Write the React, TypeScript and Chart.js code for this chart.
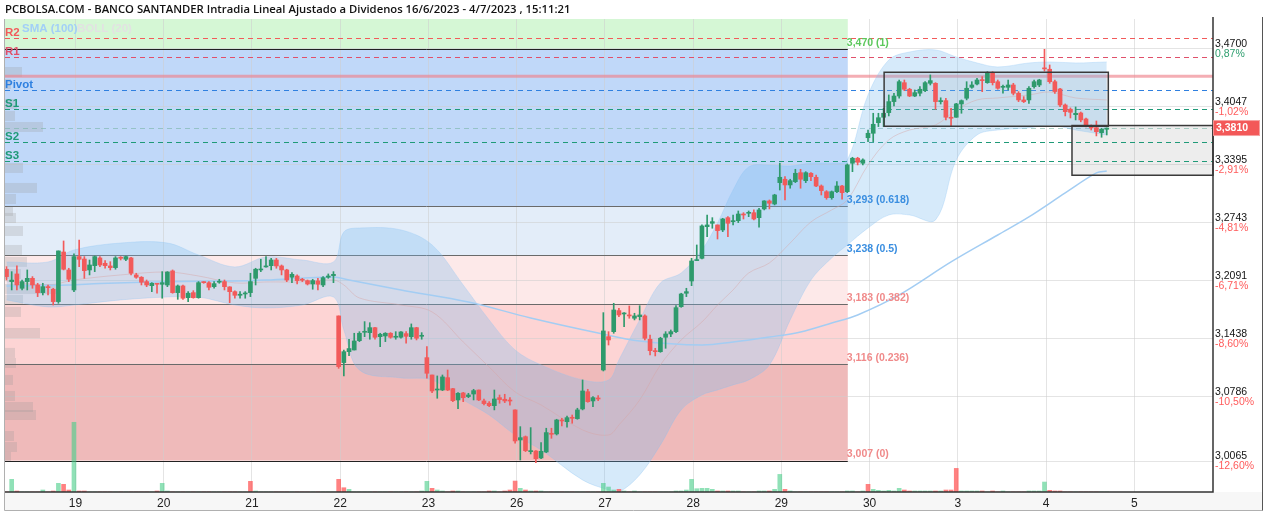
import React, { useEffect, useRef } from 'react';
import { Chart, registerables } from 'chart.js';

Chart.register(...registerables);

const TITLE = 'PCBOLSA.COM - BANCO SANTANDER Intradia Lineal Ajustado a Dividenos 16/6/2023 - 4/7/2023 , 15:11:21';

// Day labels on the x axis and the candle index where each day starts (30-minute candles)
const dayLabels = ['19', '20', '21', '22', '23', '26', '27', '28', '29', '30', '3', '4', '5'];
const dayStartIdx = [13, 30, 47, 64, 81, 98, 115, 132, 149, 166, 183, 200, 217];

// OHLC (one entry per 30-minute candle: 16/6 partial ... 4/7 15:11)
const opens = [
  3.2222, 3.2083, 3.2169, 3.2008, 3.2083, 3.2120, 3.2045, 3.1959, 3.2026, 3.1997, 3.1858, 3.2416, 3.2214,
  3.1989, 3.2364, 3.2337, 3.2214, 3.2262, 3.2349, 3.2289, 3.2259, 3.2240, 3.2357, 3.2334, 3.2349, 3.2158, 3.2132, 3.2083, 3.2037, 3.2056,
  3.2053, 3.2045, 3.2203, 3.1959, 3.2034, 3.1902, 3.1959, 3.1902, 3.2079, 3.2071, 3.2026, 3.2076, 3.2083, 3.2023, 3.1970, 3.1929, 3.1944,
  3.1959, 3.2120, 3.2214, 3.2248, 3.2262, 3.2326, 3.2259, 3.2214, 3.2132, 3.2146, 3.2101, 3.2094, 3.2056, 3.2090, 3.2045, 3.2132, 3.2150,
  3.1697, 3.1172, 3.1295, 3.1314, 3.1419, 3.1513, 3.1509, 3.1565, 3.1464, 3.1472, 3.1502, 3.1457, 3.1457, 3.1498, 3.1464, 3.1565, 3.1468,
  3.1228, 3.1033, 3.0864, 3.0864, 3.1003, 3.0879, 3.0752, 3.0831, 3.0790, 3.0819, 3.0864, 3.0741, 3.0715, 3.0688, 3.0778, 3.0760, 3.0744,
  3.0640, 3.0302, 3.0339, 3.0171, 3.0178, 3.0100, 3.0167, 3.0370, 3.0370, 3.0519, 3.0508, 3.0553, 3.0542, 3.0651, 3.0845, 3.0741, 3.0771,
  3.1089, 3.1464, 3.1520, 3.1757, 3.1719, 3.1708, 3.1671, 3.1689, 3.1697, 3.1435, 3.1306, 3.1295, 3.1457, 3.1494, 3.1520, 3.1801, 3.1952,
  3.2090, 3.2319, 3.2345, 3.2701, 3.2739, 3.2720, 3.2664, 3.2802, 3.2757, 3.2768, 3.2843, 3.2851, 3.2858, 3.2802, 3.2900, 3.2990, 3.2956,
  3.3196, 3.3234, 3.3170, 3.3207, 3.3308, 3.3218, 3.3301, 3.3256, 3.3158, 3.3094, 3.3027, 3.3094, 3.3158, 3.3094, 3.3414, 3.3470, 3.3414,
  3.3701, 3.3751, 3.3870, 3.3931, 3.3983, 3.4107, 3.4170, 3.4320, 3.4246, 3.4170, 3.4201, 3.4230, 3.4313, 3.4313, 3.4107, 3.4118, 3.3931,
  3.3931, 3.4081, 3.4145, 3.4268, 3.4305, 3.4350, 3.4320, 3.4433, 3.4331, 3.4268, 3.4268, 3.4294, 3.4201, 3.4126, 3.4126, 3.4275, 3.4294,
  3.4482, 3.4471, 3.4331, 3.4249, 3.4069, 3.4021, 3.3960, 3.3979, 3.3912, 3.3833, 3.3814, 3.3758, 3.3796,
];
const highs = [
  3.2251, 3.2195, 3.2259, 3.2101, 3.2214, 3.2139, 3.2064, 3.2064, 3.2045, 3.2008, 3.2428, 3.2540, 3.2233,
  3.2394, 3.2551, 3.2364, 3.2326, 3.2371, 3.2364, 3.2319, 3.2307, 3.2364, 3.2364, 3.2371, 3.2357, 3.2177, 3.2139, 3.2101, 3.2071, 3.2064,
  3.2195, 3.2195, 3.2214, 3.2045, 3.2045, 3.1970, 3.1981, 3.2083, 3.2083, 3.2083, 3.2083, 3.2109, 3.2101, 3.2026, 3.1978, 3.1970, 3.1970,
  3.2177, 3.2233, 3.2334, 3.2364, 3.2345, 3.2345, 3.2270, 3.2222, 3.2184, 3.2158, 3.2120, 3.2101, 3.2109, 3.2120, 3.2139, 3.2169, 3.2195,
  3.1697, 3.1314, 3.1435, 3.1502, 3.1520, 3.1633, 3.1621, 3.1569, 3.1502, 3.1509, 3.1509, 3.1520, 3.1520, 3.1520, 3.1607, 3.1569, 3.1509,
  3.1351, 3.1033, 3.1022, 3.1033, 3.1089, 3.0883, 3.0834, 3.0838, 3.0827, 3.0872, 3.0864, 3.0763, 3.0733, 3.0864, 3.0808, 3.0816, 3.0778,
  3.0640, 3.0452, 3.0347, 3.0441, 3.0182, 3.0272, 3.0434, 3.0434, 3.0535, 3.0546, 3.0572, 3.0583, 3.0659, 3.0977, 3.0872, 3.0789, 3.0800,
  3.1734, 3.1520, 3.1839, 3.1783, 3.1734, 3.1809, 3.1727, 3.1812, 3.1708, 3.1483, 3.1333, 3.1457, 3.1520, 3.1539, 3.1812, 3.1952, 3.2008,
  3.2345, 3.2495, 3.2720, 3.2832, 3.2802, 3.2720, 3.2795, 3.2813, 3.2832, 3.2877, 3.2858, 3.2877, 3.2889, 3.2908, 3.2993, 3.3001, 3.3065,
  3.3414, 3.3263, 3.3234, 3.3346, 3.3346, 3.3319, 3.3308, 3.3282, 3.3170, 3.3106, 3.3102, 3.3207, 3.3166, 3.3406, 3.3481, 3.3481, 3.3463,
  3.3788, 3.3976, 3.3976, 3.4032, 3.4182, 3.4201, 3.4350, 3.4350, 3.4257, 3.4238, 3.4275, 3.4331, 3.4407, 3.4320, 3.4150, 3.4145, 3.4032,
  3.4088, 3.4126, 3.4331, 3.4331, 3.4369, 3.4388, 3.4444, 3.4444, 3.4350, 3.4294, 3.4350, 3.4313, 3.4219, 3.4163, 3.4275, 3.4350, 3.4358,
  3.4695, 3.4519, 3.4350, 3.4257, 3.4081, 3.4036, 3.4047, 3.3990, 3.3923, 3.3845, 3.3889, 3.3807, 3.3811,
];
const lows = [
  3.2101, 3.1989, 3.1989, 3.1989, 3.1989, 3.2008, 3.1914, 3.1933, 3.1933, 3.1820, 3.1839, 3.2214, 3.2083,
  3.1970, 3.2251, 3.2120, 3.2158, 3.2195, 3.2251, 3.2233, 3.2214, 3.2222, 3.2326, 3.2319, 3.2158, 3.2120, 3.2045, 3.2026, 3.1970, 3.1952,
  3.1896, 3.2026, 3.1952, 3.1884, 3.1884, 3.1858, 3.1896, 3.1896, 3.2064, 3.1989, 3.2008, 3.2064, 3.1989, 3.1846, 3.1896, 3.1896, 3.1896,
  3.1914, 3.2045, 3.2195, 3.2244, 3.2214, 3.2233, 3.2158, 3.2083, 3.2071, 3.2056, 3.2083, 3.2045, 3.1997, 3.1989, 3.2026, 3.2120, 3.2071,
  3.1108, 3.1022, 3.1250, 3.1314, 3.1408, 3.1464, 3.1435, 3.1435, 3.1351, 3.1408, 3.1446, 3.1435, 3.1446, 3.1390, 3.1435, 3.1427, 3.1435,
  3.0996, 3.0834, 3.0771, 3.0857, 3.0857, 3.0733, 3.0654, 3.0733, 3.0778, 3.0752, 3.0744, 3.0696, 3.0677, 3.0640, 3.0715, 3.0722, 3.0693,
  3.0265, 3.0077, 3.0171, 3.0145, 3.0047, 3.0092, 3.0160, 3.0321, 3.0358, 3.0460, 3.0445, 3.0490, 3.0535, 3.0640, 3.0726, 3.0677, 3.0744,
  3.1078, 3.1370, 3.1502, 3.1689, 3.1576, 3.1671, 3.1652, 3.1652, 3.1427, 3.1258, 3.1247, 3.1288, 3.1333, 3.1464, 3.1509, 3.1794, 3.1914,
  3.2037, 3.2319, 3.2337, 3.2589, 3.2683, 3.2562, 3.2645, 3.2589, 3.2720, 3.2746, 3.2787, 3.2813, 3.2776, 3.2694, 3.2889, 3.2900, 3.2945,
  3.3113, 3.3001, 3.3133, 3.3196, 3.3133, 3.3196, 3.3218, 3.3151, 3.3057, 3.3009, 3.3009, 3.3083, 3.3009, 3.3083, 3.3319, 3.3395, 3.3395,
  3.3657, 3.3657, 3.3826, 3.3826, 3.3946, 3.4058, 3.4145, 3.4230, 3.4163, 3.4163, 3.4170, 3.4219, 3.4294, 3.4021, 3.4080, 3.3901, 3.3826,
  3.3931, 3.3976, 3.4126, 3.4257, 3.4294, 3.4219, 3.4313, 3.4294, 3.4246, 3.4201, 3.4238, 3.4182, 3.4107, 3.4096, 3.4088, 3.4257, 3.4275,
  3.4450, 3.4313, 3.4200, 3.4051, 3.3946, 3.3923, 3.3901, 3.3880, 3.3822, 3.3788, 3.3721, 3.3706, 3.3732,
];
const closes = [
  3.2139, 3.2101, 3.2045, 3.2083, 3.2120, 3.2045, 3.1959, 3.2026, 3.2015, 3.1858, 3.2428, 3.2222, 3.2109,
  3.2364, 3.2334, 3.2206, 3.2270, 3.2364, 3.2270, 3.2262, 3.2240, 3.2349, 3.2345, 3.2364, 3.2177, 3.2132, 3.2076, 3.2045, 3.2064, 3.2053,
  3.2071, 3.2191, 3.1959, 3.2034, 3.1896, 3.1952, 3.1902, 3.2071, 3.2071, 3.2019, 3.2060, 3.2083, 3.2026, 3.1970, 3.1929, 3.1941, 3.1952,
  3.2083, 3.2222, 3.2222, 3.2259, 3.2326, 3.2259, 3.2214, 3.2101, 3.2165, 3.2094, 3.2098, 3.2056, 3.2094, 3.2053, 3.2127, 3.2146, 3.2165,
  3.1127, 3.1295, 3.1330, 3.1415, 3.1502, 3.1520, 3.1565, 3.1457, 3.1491, 3.1502, 3.1457, 3.1464, 3.1517, 3.1468, 3.1565, 3.1446, 3.1475,
  3.1052, 3.0853, 3.0872, 3.1011, 3.0864, 3.0744, 3.0827, 3.0778, 3.0808, 3.0857, 3.0752, 3.0711, 3.0688, 3.0763, 3.0756, 3.0741, 3.0740,
  3.0291, 3.0328, 3.0182, 3.0178, 3.0092, 3.0175, 3.0385, 3.0366, 3.0527, 3.0516, 3.0553, 3.0546, 3.0640, 3.0853, 3.0733, 3.0778, 3.0763,
  3.1528, 3.1427, 3.1764, 3.1708, 3.1727, 3.1697, 3.1697, 3.1708, 3.1446, 3.1306, 3.1295, 3.1446, 3.1494, 3.1520, 3.1790, 3.1944, 3.1970,
  3.2315, 3.2326, 3.2709, 3.2720, 3.2757, 3.2656, 3.2787, 3.2739, 3.2765, 3.2843, 3.2832, 3.2858, 3.2787, 3.2889, 3.2990, 3.2964, 3.3057,
  3.3256, 3.3170, 3.3218, 3.3301, 3.3234, 3.3308, 3.3263, 3.3158, 3.3106, 3.3027, 3.3094, 3.3158, 3.3083, 3.3395, 3.3470, 3.3425, 3.3451,
  3.3751, 3.3852, 3.3926, 3.3976, 3.4107, 3.4170, 3.4331, 3.4246, 3.4170, 3.4208, 3.4246, 3.4320, 3.4343, 3.4107, 3.4118, 3.3931, 3.3920,
  3.4081, 3.4118, 3.4257, 3.4294, 3.4350, 3.4343, 3.4433, 3.4320, 3.4257, 3.4275, 3.4294, 3.4201, 3.4126, 3.4107, 3.4257, 3.4331, 3.4350,
  3.4475, 3.4331, 3.4220, 3.4069, 3.3994, 3.3987, 3.3975, 3.3901, 3.3833, 3.3811, 3.3769, 3.3796, 3.3810,
];
// Volume per candle (x10k shares)
const volumes = [
  0, 127, 10, 0, 0, 0, 0, 20, 0, 10, 87, 77, 20,
  700, 10, 10, 0, 0, 0, 0, 0, 0, 0, 0, 0, 0, 0, 0, 0, 10,
  87, 10, 0, 0, 0, 0, 0, 0, 0, 0, 0, 0, 0, 0, 0, 0, 0,
  107, 10, 0, 0, 0, 0, 0, 0, 0, 0, 0, 0, 0, 0, 0, 0, 0,
  127, 43, 27, 0, 0, 0, 0, 0, 0, 0, 0, 0, 0, 0, 0, 0, 10,
  107, 37, 20, 10, 0, 10, 10, 0, 0, 0, 0, 0, 10, 10, 0, 10, 20,
  110, 37, 20, 10, 10, 10, 0, 0, 0, 0, 0, 0, 0, 0, 0, 0, 0,
  87, 50, 20, 27, 10, 0, 10, 0, 0, 0, 0, 0, 0, 0, 10, 10, 20,
  127, 33, 37, 37, 27, 10, 10, 10, 10, 10, 0, 0, 0, 10, 10, 10, 27,
  177, 27, 10, 0, 0, 0, 0, 0, 0, 0, 0, 0, 0, 10, 10, 0, 10,
  77, 27, 17, 10, 17, 10, 37, 20, 10, 10, 10, 10, 10, 10, 10, 20, 20,
  237, 10, 10, 10, 10, 10, 0, 10, 0, 10, 0, 0, 0, 0, 10, 10, 10,
  100, 17, 10, 10, 0, 0, 0, 0, 0, 0, 0, 0, 0,
];
// candles whose volume bar colour is opposite to the candle colour
const volumeColorFlip = [47, 65, 81, 116, 166, 183, 200];

// SMA(100)
const smaIdx = [0, 12, 18, 31, 44, 50, 63, 66, 76, 89, 101, 114, 122, 134, 140, 147, 153, 159, 164, 172, 182, 191, 197, 204, 210, 212];
const smaVal = [3.2034, 3.2045, 3.2062, 3.2082, 3.2090, 3.2101, 3.2135, 3.2101, 3.1989, 3.1854, 3.1674, 3.1505, 3.1415, 3.1370, 3.1404, 3.1460, 3.1517, 3.1618, 3.1708, 3.1933, 3.2304, 3.2607, 3.2810, 3.3080, 3.3305, 3.3327];

// Bollinger (20)
const bbIdx = [0, 8, 13, 22, 31, 37, 44, 50, 57, 63, 65, 68, 76, 82, 88, 93, 98, 103, 111, 116, 118, 122, 126, 130, 134, 137, 140, 143, 147, 151, 155, 159, 162, 166, 170, 174, 179, 183, 187, 191, 197, 201, 206, 212];
const bbUpper = [3.2304, 3.2304, 3.2439, 3.2517, 3.2517, 3.2382, 3.2248, 3.2360, 3.2326, 3.2304, 3.2641, 3.2686, 3.2664, 3.2495, 3.2045, 3.1652, 3.1314, 3.1146, 3.0977, 3.0977, 3.1202, 3.1652, 3.2068, 3.2180, 3.2439, 3.2742, 3.3113, 3.3372, 3.3395, 3.3383, 3.3417, 3.3417, 3.3451, 3.4182, 3.4575, 3.4665, 3.4688, 3.4609, 3.4542, 3.4497, 3.4542, 3.4553, 3.4542, 3.4553];
const bbMid = [3.2090, 3.2045, 3.2101, 3.2158, 3.2191, 3.2146, 3.2068, 3.2079, 3.2079, 3.2101, 3.2045, 3.1899, 3.1820, 3.1742, 3.1404, 3.1123, 3.0842, 3.0696, 3.0415, 3.0358, 3.0471, 3.0752, 3.1146, 3.1427, 3.1629, 3.1820, 3.1989, 3.2180, 3.2293, 3.2517, 3.2754, 3.2889, 3.3001, 3.3395, 3.3676, 3.3788, 3.3844, 3.4013, 3.4126, 3.4148, 3.4182, 3.4215, 3.4148, 3.4126];
const bbLower = [3.1877, 3.1798, 3.1820, 3.1877, 3.1910, 3.1910, 3.1820, 3.1787, 3.1820, 3.1910, 3.1539, 3.1089, 3.1000, 3.0977, 3.0752, 3.0583, 3.0358, 3.0190, 2.9852, 2.9740, 2.9717, 2.9909, 3.0246, 3.0640, 3.0808, 3.0864, 3.0921, 3.0977, 3.1146, 3.1652, 3.2101, 3.2349, 3.2495, 3.2686, 3.2832, 3.2832, 3.2776, 3.3451, 3.3732, 3.3788, 3.3811, 3.3844, 3.3788, 3.3732];

// Right axis ticks and their % change labels
const yTicks = [3.47, 3.4047, 3.3395, 3.2743, 3.2091, 3.1438, 3.0786, 3.0065];
const yTickPct = ['0,87%', '-1,02%', '-2,91%', '-4,81%', '-6,71%', '-8,60%', '-10,50%', '-12,60%'];

// Fibonacci retracement
const fibLevels = [3.470, 3.293, 3.238, 3.183, 3.116, 3.007];
const fibRatios = ['1', '0.618', '0.5', '0.382', '0.236', '0'];
const fibEndIdx = 162.1;

// Pivot points
const pivotNames = ['R2', 'R1', 'Pivot', 'S1', 'S2', 'S3'];
const pivotValues = [3.4819, 3.4606, 3.4238, 3.4024, 3.3650, 3.3440];
const refPrice = 3.4392;
const lastPrice = 3.3810;

// Rectangles drawn on the chart
const boxX0 = [169.1, 205.3];
const boxX1 = [212.3, 232.47];
const boxTop = [3.4437, 3.3838];
const boxBottom = [3.3830, 3.3279];

// Volume profile (price bucket centre, volume)
const vpPrice = [3.4440, 3.4305, 3.4081, 3.3946, 3.3822, 3.3361, 3.3136, 3.3012, 3.2877, 3.2799, 3.2652, 3.2439, 3.2304, 3.2169, 3.2000, 3.1877, 3.1742, 3.1505, 3.1281, 3.1168, 3.0977, 3.0797, 3.0673, 3.0583, 3.0347, 3.0223, 3.0111];
const vpVolume = [17, 6, 12, 10, 38, 18, 32, 11, 8, 11, 18, 17, 22, 16, 52, 18, 16, 35, 10, 11, 8, 10, 28, 31, 9, 12, 6];

const W = 1267;
const H = 515;
const X_MIN = -0.289;
const X_MAX = 232.47;
const Y_MIN = 2.9717;
const Y_MAX = 3.5036;
const FONT = "'Liberation Sans', Arial, sans-serif";
const GREEN = '#2e9a6c';
const RED = '#f25a5a';
const ZONE_COLORS = ['#d5f7d5', '#c0d8f9', '#e3edf9', '#fde9e9', '#fdd4d4', '#efbaba'];
const FIB_TEXT = ['#5cc85c', '#3a8ee0', '#3a8ee0', '#f08a8a', '#f08a8a', '#f08a8a'];
const PIVOT_COLORS = ['#f25a5a', '#e0506a', '#2f80e0', '#1f9a78', '#1f9a78', '#1f9a78'];

const comma = (v: number, d: number) => v.toFixed(d).replace('.', ',');

const overlay = {
  id: 'overlay',
  beforeDraw(chart: any) {
    const { ctx, chartArea: a } = chart;
    const x = chart.scales.x;
    const y = chart.scales.y;
    ctx.save();
    ctx.fillStyle = '#ffffff';
    ctx.fillRect(0, 0, chart.width, chart.height);
    ctx.fillStyle = '#f7f7f7';
    ctx.fillRect(4, a.bottom, 1258, 510 - a.bottom);
    const xr = x.getPixelForValue(fibEndIdx);
    const edges = [a.top, ...fibLevels.map((v) => y.getPixelForValue(v))];
    for (let k = 0; k < ZONE_COLORS.length; k++) {
      ctx.fillStyle = ZONE_COLORS[k];
      ctx.fillRect(a.left, edges[k], xr - a.left, edges[k + 1] - edges[k]);
    }
    ctx.restore();
  },
  beforeDatasetsDraw(chart: any) {
    const { ctx, chartArea: a } = chart;
    const x = chart.scales.x;
    const y = chart.scales.y;
    ctx.save();
    ctx.beginPath();
    ctx.rect(a.left, a.top, a.right - a.left, a.bottom - a.top);
    ctx.clip();
    // volume profile
    ctx.fillStyle = 'rgba(150,150,150,0.25)';
    const half = 0.0056;
    vpPrice.forEach((p, k) => {
      const y0 = y.getPixelForValue(p + half);
      const y1 = y.getPixelForValue(p - half);
      ctx.fillRect(a.left, y0, vpVolume[k], y1 - y0);
    });
    // box fills
    for (let k = 0; k < boxX0.length; k++) {
      const x0 = x.getPixelForValue(boxX0[k]);
      const x1 = x.getPixelForValue(boxX1[k]);
      const y0 = y.getPixelForValue(boxTop[k]);
      const y1 = y.getPixelForValue(boxBottom[k]);
      ctx.fillStyle = 'rgba(140,140,140,0.16)';
      ctx.fillRect(x0, y0, x1 - x0, y1 - y0);
    }
    // fib lines
    const xr = x.getPixelForValue(fibEndIdx);
    fibLevels.forEach((v, k) => {
      const yy = Math.round(y.getPixelForValue(v)) + 0.5;
      ctx.strokeStyle = k === 0 || k === fibLevels.length - 1 ? '#222' : '#6a6a6a';
      ctx.lineWidth = 1;
      ctx.beginPath();
      ctx.moveTo(a.left, yy);
      ctx.lineTo(xr, yy);
      ctx.stroke();
    });
    // reference line
    const ry = y.getPixelForValue(refPrice);
    ctx.strokeStyle = 'rgba(238,130,140,0.65)';
    ctx.lineWidth = 3;
    ctx.beginPath();
    ctx.moveTo(a.left, ry);
    ctx.lineTo(a.right, ry);
    ctx.stroke();
    // pivot dashed lines
    ctx.setLineDash([5, 4]);
    ctx.lineWidth = 1;
    pivotValues.forEach((v, k) => {
      const yy = Math.round(y.getPixelForValue(v)) + 0.5;
      ctx.strokeStyle = PIVOT_COLORS[k];
      ctx.beginPath();
      ctx.moveTo(a.left, yy);
      ctx.lineTo(a.right, yy);
      ctx.stroke();
    });
    const ly = Math.round(y.getPixelForValue(lastPrice)) + 0.5;
    ctx.strokeStyle = 'rgba(120,180,165,0.6)';
    ctx.beginPath();
    ctx.moveTo(a.left, ly);
    ctx.lineTo(a.right, ly);
    ctx.stroke();
    ctx.restore();
  },
  afterDatasetsDraw(chart: any) {
    const { ctx, chartArea: a } = chart;
    const x = chart.scales.x;
    const y = chart.scales.y;
    ctx.save();
    // box borders
    ctx.strokeStyle = '#3a3a3a';
    ctx.lineWidth = 1.5;
    for (let k = 0; k < boxX0.length; k++) {
      const x0 = x.getPixelForValue(boxX0[k]);
      const x1 = x.getPixelForValue(boxX1[k]);
      const y0 = y.getPixelForValue(boxTop[k]);
      const y1 = y.getPixelForValue(boxBottom[k]);
      ctx.strokeRect(x0, y0, x1 - x0, y1 - y0);
    }
    // fib labels
    const xr = x.getPixelForValue(fibEndIdx);
    ctx.font = `bold 10.5px ${FONT}`;
    ctx.textBaseline = 'middle';
    ctx.textAlign = 'left';
    fibLevels.forEach((v, k) => {
      ctx.fillStyle = FIB_TEXT[k];
      ctx.fillText(`${comma(v, 3)} (${fibRatios[k]})`, xr - 1, y.getPixelForValue(v) - 6);
    });
    // pivot labels
    ctx.font = `bold 11.5px ${FONT}`;
    pivotValues.forEach((v, k) => {
      ctx.fillStyle = PIVOT_COLORS[k];
      ctx.fillText(pivotNames[k], a.left, y.getPixelForValue(v) - 5);
    });
    // legend
    ctx.font = `bold 11.5px ${FONT}`;
    ctx.fillStyle = '#a2cff7';
    ctx.fillText('SMA (100)', a.left + 17, a.top + 9.5);
    ctx.fillStyle = '#e2e2e2';
    ctx.fillText('BOLL (20)', a.left + 72, a.top + 9.5);
    ctx.restore();
  },
  afterDraw(chart: any) {
    const { ctx, chartArea: a } = chart;
    const y = chart.scales.y;
    ctx.save();
    // frame
    ctx.strokeStyle = '#b0b0b0';
    ctx.lineWidth = 1;
    ctx.beginPath();
    ctx.moveTo(4.5, a.top);
    ctx.lineTo(4.5, 510.5);
    ctx.lineTo(1262.5, 510.5);
    ctx.stroke();
    ctx.strokeStyle = '#555';
    ctx.beginPath();
    ctx.moveTo(1262.5, a.top - 2);
    ctx.lineTo(1262.5, 510.5);
    ctx.stroke();
    ctx.strokeStyle = '#333';
    ctx.lineWidth = 1.5;
    ctx.beginPath();
    ctx.moveTo(a.right, a.top - 2);
    ctx.lineTo(a.right, a.bottom);
    ctx.lineTo(a.left, a.bottom);
    ctx.stroke();
    // y labels
    ctx.textBaseline = 'middle';
    ctx.textAlign = 'left';
    yTicks.forEach((v, k) => {
      const yy = y.getPixelForValue(v);
      ctx.font = `10.5px ${FONT}`;
      ctx.fillStyle = '#111';
      ctx.fillText(comma(v, 4), a.right + 2, yy - 5);
      ctx.fillStyle = yTickPct[k].startsWith('-') ? '#ff5b5b' : '#2e9e6e';
      ctx.fillText(yTickPct[k], a.right + 2, yy + 5.5);
    });
    // last price tag
    const py = y.getPixelForValue(lastPrice);
    ctx.fillStyle = '#f35858';
    ctx.fillRect(a.right, py - 7, 46, 14);
    ctx.strokeStyle = 'rgba(245,150,150,0.9)';
    ctx.lineWidth = 1;
    ctx.strokeRect(a.right + 0.5, py - 7.5, 46, 15);
    ctx.fillStyle = '#fff';
    ctx.font = `bold 10.5px ${FONT}`;
    ctx.fillText(comma(lastPrice, 4), a.right + 3, py + 0.5);
    // title
    ctx.fillStyle = '#111';
    ctx.font = `600 12px 'Open Sans', ${FONT}`;
    const w = ctx.measureText(TITLE).width;
    const size = Math.min(13, (12 * 566) / w);
    ctx.font = `600 ${size}px 'Open Sans', ${FONT}`;
    ctx.fillText(TITLE, 5, 10);
    ctx.restore();
  },
};

function App() {
  const ref = useRef<HTMLCanvasElement>(null);
  useEffect(() => {
    document.body.style.margin = '0';
    const canvas = ref.current as HTMLCanvasElement;
    const up = opens.map((o, i) => closes[i] >= o);
    const candleColors = up.map((u) => (u ? GREEN : RED));
    const volColors = up.map((u, i) => {
      const g = volumeColorFlip.includes(i) ? !u : u;
      return g ? 'rgba(70,205,135,0.6)' : 'rgba(255,80,80,0.72)';
    });
    const pts = (idx: number[], vals: number[]) => idx.map((xv, k) => ({ x: xv, y: vals[k] }));
    const GRID = 'rgba(205,205,205,0.55)';
    const chart = new Chart(canvas, {
      type: 'bar',
      data: {
        datasets: [
          {
            type: 'bar', label: 'body',
            data: opens.map((o, i) => ({ x: i, y: [Math.min(o, closes[i]), Math.max(o, closes[i])] })) as any,
            backgroundColor: candleColors, barThickness: 4, minBarLength: 1, grouped: false, order: 1,
          },
          {
            type: 'bar', label: 'wick',
            data: lows.map((l, i) => ({ x: i, y: [l, highs[i]] })) as any,
            backgroundColor: candleColors, barThickness: 1, grouped: false, order: 2,
          },
          {
            type: 'bar', label: 'volume', yAxisID: 'yv',
            data: volumes.map((v, i) => ({ x: i, y: v })) as any,
            backgroundColor: volColors, barThickness: 4, grouped: false, order: 3,
          },
          {
            type: 'line', label: 'SMA (100)', data: pts(smaIdx, smaVal) as any,
            borderColor: '#a3cdf3', borderWidth: 1.5, pointRadius: 0, tension: 0.35, fill: false, order: 4,
          },
          {
            type: 'line', label: 'BOLL mid', data: pts(bbIdx, bbMid) as any,
            borderColor: 'rgba(215,165,165,0.45)', borderWidth: 1, pointRadius: 0, tension: 0.35, fill: false, order: 5,
          },
          {
            type: 'line', label: 'BOLL up', data: pts(bbIdx, bbUpper) as any,
            borderColor: 'rgba(140,195,245,0.3)', borderWidth: 1, pointRadius: 0, tension: 0.35,
            fill: '+1', backgroundColor: 'rgba(120,185,240,0.3)', order: 6,
          },
          {
            type: 'line', label: 'BOLL low', data: pts(bbIdx, bbLower) as any,
            borderColor: 'rgba(140,195,245,0.3)', borderWidth: 1, pointRadius: 0, tension: 0.35, fill: false, order: 7,
          },
        ],
      },
      options: {
        responsive: false,
        animation: false,
        devicePixelRatio: 1,
        events: [],
        layout: { padding: { top: 19, left: 5, right: 0, bottom: 0 } },
        plugins: { legend: { display: false }, tooltip: { enabled: false } },
        scales: {
          x: {
            type: 'linear', min: X_MIN, max: X_MAX, offset: false,
            grid: { color: GRID, drawTicks: false, offset: false },
            border: { display: false },
            ticks: {
              autoSkip: false, maxRotation: 0, padding: 4, color: '#222',
              font: { family: FONT, size: 12 },
              callback: (_v: any, i: number) => dayLabels[i],
            },
            afterBuildTicks: (s: any) => { s.ticks = dayStartIdx.map((d) => ({ value: d + 0.3 })); },
            afterFit: (s: any) => { s.height = 23; },
          },
          y: {
            type: 'linear', position: 'right', min: Y_MIN, max: Y_MAX,
            grid: { color: GRID, drawTicks: false },
            border: { display: false },
            ticks: { display: false },
            afterBuildTicks: (s: any) => { s.ticks = yTicks.map((v) => ({ value: v })); },
            afterFit: (s: any) => { s.width = 54; },
          },
          yv: { type: 'linear', display: false, min: 0, max: 4750 },
        },
      } as any,
      plugins: [overlay],
    });
    return () => chart.destroy();
  }, []);
  return (
    <div style={{ position: 'absolute', left: 0, top: 0, width: W, height: H, background: '#fff' }}>
      <canvas ref={ref} width={W} height={H} style={{ display: 'block', width: W, height: H }} />
    </div>
  );
}

export default App;
